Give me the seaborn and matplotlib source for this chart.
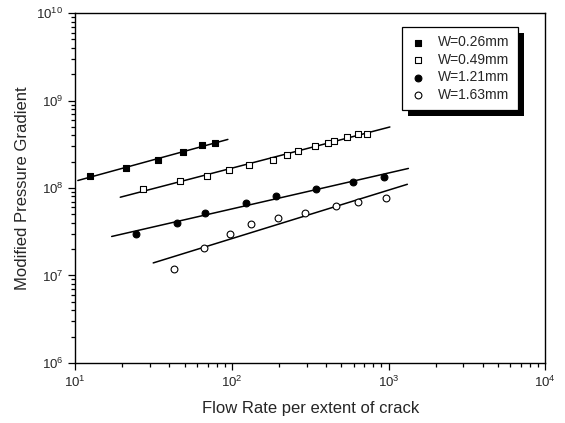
import numpy as np
import pandas as pd
import matplotlib
matplotlib.use('Agg')
import matplotlib.pyplot as plt
import seaborn as sns
from matplotlib.patches import Rectangle

# values
w026_x = [12.5, 21.1, 33.7, 49.1, 64.4, 78.5]
w026_y = [1.37e8, 1.71e8, 2.07e8, 2.58e8, 3.08e8, 3.31e8]

w049_x = [27.0, 46.8, 69.3, 96.5, 128, 184, 224, 265, 340, 410, 452, 542, 637, 733]
w049_y = [9.84e7, 1.19e8, 1.37e8, 1.62e8, 1.85e8, 2.09e8, 2.41e8, 2.68e8,
          3.03e8, 3.27e8, 3.49e8, 3.84e8, 4.15e8, 4.2e8]

w121_x = [24.6, 44.4, 67.8, 124, 190, 343, 597, 931]
w121_y = [3.0e7, 3.98e7, 5.17e7, 6.73e7, 8.1e7, 9.8e7, 1.17e8, 1.34e8]

w163_x = [43.0, 66.6, 97.5, 133, 197, 295, 463, 637, 966]
w163_y = [1.19e7, 2.08e7, 2.99e7, 3.83e7, 4.5e7, 5.23e7, 6.17e7, 6.86e7, 7.77e7]

labels = ['W=0.26mm', 'W=0.49mm', 'W=1.21mm', 'W=1.63mm']

sns.set_style('ticks')
plt.rcParams['font.family'] = ['Liberation Sans', 'DejaVu Sans']
plt.rcParams['mathtext.fontset'] = 'custom'
plt.rcParams['mathtext.rm'] = 'Liberation Sans'


def log_fit(x, y, ext=0.1):
    """least squares line in log-log space, drawn 10% past the data"""
    lx, ly = np.log10(x), np.log10(y)
    k, b = np.polyfit(lx, ly, 1)
    pad = (lx.max() - lx.min()) * ext
    xs = np.array([lx.min() - pad, lx.max() + pad])
    return 10 ** xs, 10 ** (k * xs + b)


fig = plt.figure(figsize=(5.65, 4.23), dpi=100)
ax = fig.add_axes([0.133, 0.142, 0.832, 0.827])

series = [
    (w026_x, w026_y, 's', 'black', 20),
    (w049_x, w049_y, 's', 'white', 14),
    (w121_x, w121_y, 'o', 'black', 24),
    (w163_x, w163_y, 'o', 'white', 24),
]

for (x, y, m, fc, s), lab in zip(series, labels):
    df = pd.DataFrame({'x': np.array(x, float), 'y': np.array(y, float)})
    fx, fy = log_fit(df['x'].values, df['y'].values)
    sns.lineplot(x=fx, y=fy, color='black', lw=1.1, ax=ax, zorder=2)
    sns.scatterplot(data=df, x='x', y='y', marker=m, s=s, color='black',
                    facecolor=fc, edgecolor='black', linewidth=0.8,
                    ax=ax, label=lab, zorder=3)

ax.set_xscale('log')
ax.set_yscale('log')
ax.set_xlim(10, 1e4)
ax.set_ylim(1e6, 1e10)

for sp in ax.spines.values():
    sp.set_linewidth(1.0)
    sp.set_color('black')
ax.tick_params(which='both', direction='out', top=False, right=False,
               color='black', width=0.9, labelsize=9.5)
ax.tick_params(which='major', length=5)
ax.tick_params(which='minor', length=3)

ax.set_xlabel('Flow Rate per extent of crack', fontsize=12, labelpad=8)
ax.set_ylabel('Modified Pressure Gradient', fontsize=12, labelpad=5)

leg = ax.legend(loc='upper left', bbox_to_anchor=(0.696, 0.96),
                borderaxespad=0, frameon=True, fancybox=False,
                edgecolor='black', framealpha=1, fontsize=10,
                handlelength=1.0, handletextpad=1.0, labelspacing=0.25,
                borderpad=0.6, scatterpoints=1)
leg.get_frame().set_linewidth(0.9)
leg.set_zorder(6)

# hard black drop shadow behind the legend box
fig.canvas.draw()
bb = leg.get_window_extent().transformed(ax.transAxes.inverted())
dx, dy = 6 / (0.832 * 565), 6 / (0.827 * 423)
ax.add_patch(Rectangle((bb.x0 + dx, bb.y0 - dy), bb.width, bb.height,
                       transform=ax.transAxes, facecolor='black',
                       edgecolor='none', zorder=5, clip_on=False))

fig.savefig('out.png', dpi=100)
